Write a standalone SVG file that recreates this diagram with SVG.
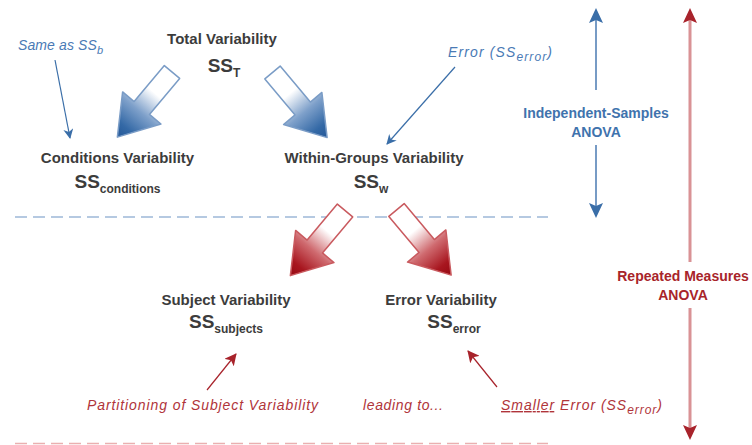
<svg xmlns="http://www.w3.org/2000/svg" width="752" height="445" viewBox="0 0 752 445">
<defs>
<style>
.lbl{font-family:"Liberation Sans",Arial,sans-serif;font-weight:bold;fill:#3c3c3c;text-anchor:middle}
.t15{font-size:15px}
.ss{font-size:19px}
.sub{font-size:12px}
.hand{font-family:"Liberation Sans",Arial,sans-serif;font-style:italic;font-size:14px}
.hb{fill:#4a7ab5}
.hr{fill:#b0343a}
.anova{font-family:"Liberation Sans",Arial,sans-serif;font-weight:bold;font-size:14px;text-anchor:middle}
.bigb{fill:url(#gb);stroke:#7a9cc6;stroke-width:1.5;stroke-linejoin:round}
.bigr{fill:url(#gr);stroke:#c95a5f;stroke-width:1.5;stroke-linejoin:round}
</style>
<linearGradient id="gb" x1="0" y1="0" x2="1" y2="0">
<stop offset="0" stop-color="#ffffff"/>
<stop offset="0.32" stop-color="#ffffff"/>
<stop offset="0.6" stop-color="#7ea0ca"/>
<stop offset="0.85" stop-color="#3469a6"/>
<stop offset="1" stop-color="#245898"/>
</linearGradient>
<linearGradient id="gr" x1="0" y1="0" x2="1" y2="0">
<stop offset="0" stop-color="#ffffff"/>
<stop offset="0.32" stop-color="#ffffff"/>
<stop offset="0.6" stop-color="#cf6a6f"/>
<stop offset="0.85" stop-color="#a8161f"/>
<stop offset="1" stop-color="#960a13"/>
</linearGradient>
<path id="big" d="M0,-10 L47,-10 L47,-25 L85,0 L47,25 L47,10 L0,10 Z"/>
<marker id="mb" markerWidth="10" markerHeight="10" refX="9" refY="5" orient="auto" markerUnits="userSpaceOnUse">
<path d="M0,0 L10,5 L0,10 L3,5 Z" fill="#3a6ea8"/>
</marker>
<marker id="mr" markerWidth="12" markerHeight="12" refX="11" refY="6" orient="auto" markerUnits="userSpaceOnUse">
<path d="M0,0 L12,6 L0,12 L3,6 Z" fill="#a8232b"/>
</marker>
</defs>
<rect width="752" height="445" fill="#ffffff"/>

<g id="dividers">
<line x1="15" y1="217" x2="548" y2="217" stroke="#9db8d8" stroke-width="1.5" stroke-dasharray="12,6"/>
<line x1="15" y1="443.5" x2="548" y2="443.5" stroke="#eab0b0" stroke-width="1.5" stroke-dasharray="12,6"/>
</g>

<g id="connectors">
<use href="#big" class="bigb" transform="translate(172,72) rotate(130)"/>
<use href="#big" class="bigb" transform="translate(272.5,72.5) rotate(50)"/>
<use href="#big" class="bigr" transform="translate(345,210.5) rotate(130)"/>
<use href="#big" class="bigr" transform="translate(396.5,210) rotate(50)"/>
<line x1="55" y1="60" x2="70" y2="138" stroke="#3a6ea8" stroke-width="1.2" marker-end="url(#mb)"/>
<line x1="455" y1="67" x2="387" y2="144" stroke="#3a6ea8" stroke-width="1.2" marker-end="url(#mb)"/>
<line x1="207" y1="390" x2="236" y2="354" stroke="#a8232b" stroke-width="1.2" marker-end="url(#mr)"/>
<line x1="497" y1="387" x2="468" y2="351" stroke="#a8232b" stroke-width="1.2" marker-end="url(#mr)"/>
</g>

<g id="total">
<text class="lbl t15" x="222" y="44">Total Variability</text>
<text class="lbl ss" x="224" y="72">SS<tspan class="sub" dy="5">T</tspan></text>
</g>
<g id="conditions">
<text class="lbl t15" x="117.5" y="163">Conditions Variability</text>
<text class="lbl ss" x="117.5" y="188">SS<tspan class="sub" dy="5">conditions</tspan></text>
</g>
<g id="within">
<text class="lbl t15" x="374" y="163">Within-Groups Variability</text>
<text class="lbl ss" x="371" y="188">SS<tspan class="sub" dy="5">w</tspan></text>
</g>
<g id="subjects">
<text class="lbl t15" x="226" y="305">Subject Variability</text>
<text class="lbl ss" x="226" y="328">SS<tspan class="sub" dy="5">subjects</tspan></text>
</g>
<g id="error">
<text class="lbl t15" x="441" y="305">Error Variability</text>
<text class="lbl ss" x="454" y="328">SS<tspan class="sub" dy="5">error</tspan></text>
</g>

<g id="annotations">
<text class="hand hb" x="18" y="50" textLength="85" lengthAdjust="spacing">Same as SS<tspan font-size="11" dy="4">b</tspan></text>
<text class="hand hb" x="448" y="57" textLength="104" lengthAdjust="spacing">Error (SS<tspan font-size="12" dy="4">error</tspan><tspan dy="-4">)</tspan></text>
<text class="hand hr" x="87" y="410" textLength="231" lengthAdjust="spacing">Partitioning of Subject Variability</text>
<text class="hand hr" x="363" y="410" textLength="80" lengthAdjust="spacing">leading to...</text>
<text class="hand hr" x="501" y="410" textLength="161" lengthAdjust="spacing"><tspan text-decoration="underline">Smaller</tspan> Error (SS<tspan font-size="12" dy="4">error</tspan><tspan dy="-4">)</tspan></text>
</g>

<g id="independent">
<line x1="596" y1="18" x2="596" y2="90" stroke="#4a7ab2" stroke-width="1.5"/>
<line x1="596" y1="145" x2="596" y2="208" stroke="#4a7ab2" stroke-width="1.5"/>
<path d="M596,8 L603,23 L596,20 L589,23 Z" fill="#3a6ea8"/>
<path d="M596,218 L603,203 L596,206 L589,203 Z" fill="#3a6ea8"/>
<text class="anova" x="596" y="118" fill="#3f73ad">Independent-Samples</text>
<text class="anova" x="596" y="137" fill="#3f73ad">ANOVA</text>
</g>

<g id="repeated">
<line x1="690" y1="18" x2="690" y2="262" stroke="#bb474d" stroke-width="2.6"/>
<line x1="690" y1="18" x2="690" y2="262" stroke="#f8dede" stroke-width="1"/>
<line x1="690" y1="308" x2="690" y2="430" stroke="#bb474d" stroke-width="2.6"/>
<line x1="690" y1="308" x2="690" y2="430" stroke="#f8dede" stroke-width="1"/>
<path d="M690,8 L697,23 L690,20 L683,23 Z" fill="#a8232b"/>
<path d="M690,440 L697,425 L690,428 L683,425 Z" fill="#a8232b"/>
<text class="anova" x="683" y="281" fill="#a8242a">Repeated Measures</text>
<text class="anova" x="683" y="300" fill="#a8242a">ANOVA</text>
</g>
</svg>
